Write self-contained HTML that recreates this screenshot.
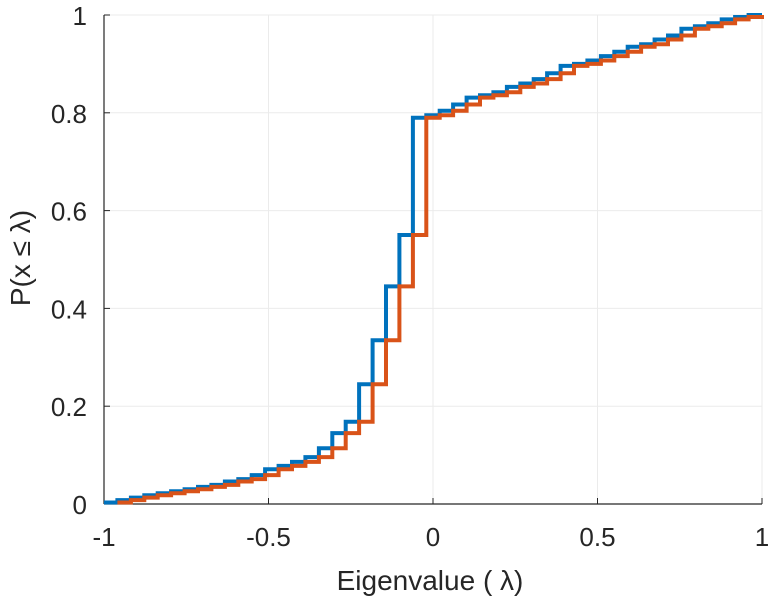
<!DOCTYPE html>
<html><head><meta charset="utf-8"><style>
html,body{margin:0;padding:0;background:#fff;}
svg{display:block;font-family:"Liberation Sans",sans-serif;}
</style></head><body>
<svg id="chart" width="768" height="600" viewBox="0 0 768 600" xmlns="http://www.w3.org/2000/svg">
<g id="grid"></g>
<g id="axes"></g>
<g id="series"></g>
<text transform="translate(30,258) rotate(-90)" text-anchor="middle" font-size="28" fill="#262626">P(x ≤  λ)</text>
<text x="430" y="590" text-anchor="middle" font-size="28" fill="#262626">Eigenvalue (   λ)</text>
</svg>
<script>
const xTicks = [-1, -0.5, 0, 0.5, 1];
const xTickLabels = ["-1", "-0.5", "0", "0.5", "1"];
const yTicks = [0, 0.2, 0.4, 0.6, 0.8, 1];
const yTickLabels = ["0", "0.2", "0.4", "0.6", "0.8", "1"];
const binStart = -1;
const binWidth = 2 / 49;
const blueValues = [0.003,0.008,0.013,0.018,0.022,0.026,0.030,0.035,0.039,0.046,0.051,0.059,0.071,0.078,0.086,0.096,0.114,0.145,0.168,0.245,0.335,0.445,0.55,0.79,0.795,0.804,0.817,0.831,0.836,0.842,0.853,0.860,0.869,0.881,0.896,0.900,0.907,0.916,0.925,0.935,0.940,0.950,0.958,0.972,0.977,0.983,0.991,0.996,1.0];
const orangeValues = [0.003,0.008,0.013,0.018,0.022,0.026,0.030,0.035,0.039,0.046,0.051,0.059,0.071,0.078,0.086,0.096,0.114,0.145,0.168,0.245,0.335,0.445,0.55,0.79,0.795,0.804,0.817,0.831,0.836,0.842,0.853,0.860,0.869,0.881,0.896,0.900,0.907,0.916,0.925,0.935,0.940,0.950,0.958,0.972,0.977,0.983,0.991,0.996,1.0];
const orangeOffsetBins = 1;

const NS = "http://www.w3.org/2000/svg";
const L = 104, R = 762, T = 15, B = 504;
const xS = v => L + (v + 1) / 2 * (R - L);
const yS = v => B - v * (B - T);
function mk(tag, attrs, parent) {
  const e = document.createElementNS(NS, tag);
  for (const k in attrs) e.setAttribute(k, attrs[k]);
  parent.appendChild(e); return e;
}
const grid = document.getElementById('grid'), axes = document.getElementById('axes'), series = document.getElementById('series');
xTicks.forEach((t, i) => {
  const g = mk('line', {x1: xS(t), x2: xS(t), y1: T, y2: B, stroke: '#ebebeb', 'stroke-width': 1}, grid);
  
  
  const tk = mk('line', {x1: xS(t), x2: xS(t), y1: B, y2: B - 6, stroke: '#262626', 'stroke-width': 1}, axes);
  
  
  const tx = mk('text', {x: xS(t), y: B + 42, 'text-anchor': 'middle', 'font-size': 26, fill: '#262626'}, axes);
  tx.textContent = xTickLabels[i];
  
  
});
yTicks.forEach((t, i) => {
  const g = mk('line', {x1: L, x2: R, y1: yS(t), y2: yS(t), stroke: '#ebebeb', 'stroke-width': 1}, grid);
  
  
  const tk = mk('line', {x1: L, x2: L + 6, y1: yS(t), y2: yS(t), stroke: '#262626', 'stroke-width': 1}, axes);
  
  
  const tx = mk('text', {x: L - 17, y: yS(t) + 10, 'text-anchor': 'end', 'font-size': 26, fill: '#262626'}, axes);
  tx.textContent = yTickLabels[i];
  
  
});
const ax1 = mk('line', {x1: L, x2: L, y1: T, y2: B, stroke: '#262626', 'stroke-width': 1.2}, axes);


const ax2 = mk('line', {x1: L, x2: R, y1: B, y2: B, stroke: '#262626', 'stroke-width': 1.2}, axes);



function stairs(vals, offset) {
  let d = '';
  vals.forEach((v, k) => {
    const x0 = Math.min(1, binStart + (k + offset) * binWidth);
    const x1 = Math.min(1, binStart + (k + offset + 1) * binWidth);
    d += (k === 0 ? 'M' : 'L') + xS(x0).toFixed(1) + ',' + yS(v).toFixed(1) + 'L' + xS(x1).toFixed(1) + ',' + yS(v).toFixed(1);
  });
  return d;
}
const clip = mk('clipPath', {id: 'pc'}, series);
mk('rect', {x: L, y: 0, width: R - L + 2, height: B + 2}, clip);
const pb = mk('path', {d: stairs(blueValues, 0), fill: 'none', stroke: '#0072BD', 'stroke-width': 4, 'stroke-linejoin': 'miter', 'clip-path': 'url(#pc)'}, series);


const po = mk('path', {d: stairs(orangeValues, orangeOffsetBins), fill: 'none', stroke: '#D95319', 'stroke-width': 4, 'stroke-linejoin': 'miter', 'clip-path': 'url(#pc)'}, series);


</script>
</body></html>
